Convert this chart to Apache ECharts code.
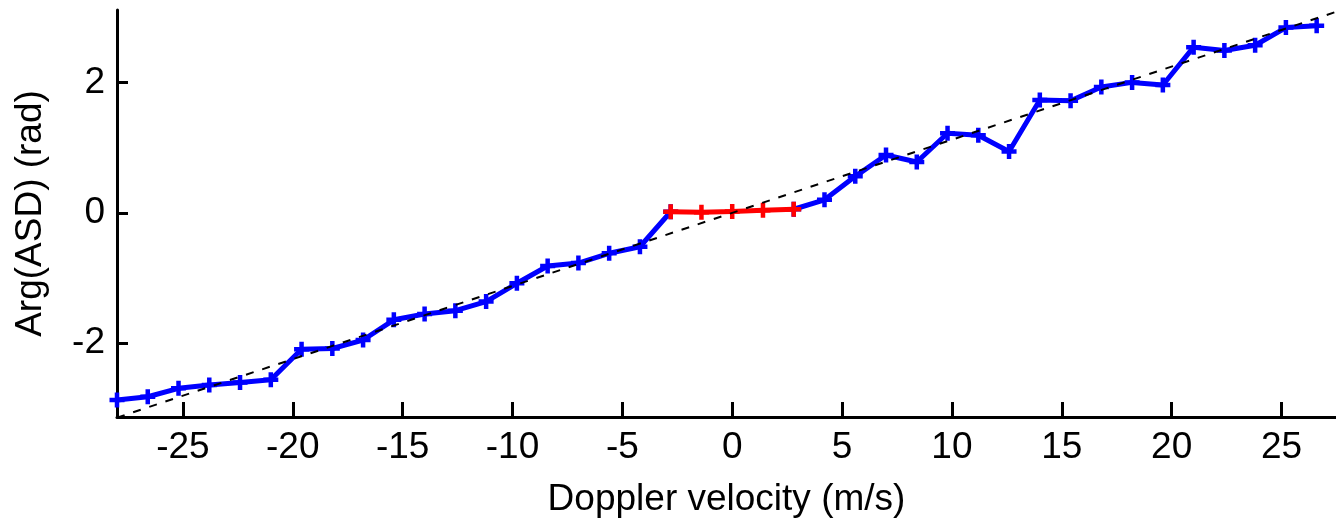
<!DOCTYPE html>
<html>
<head>
<meta charset="utf-8">
<script src="https://cdn.jsdelivr.net/npm/echarts@6/dist/echarts.min.js"></script>
<style>
  html, body {margin: 0; padding: 0; background: #fff;}
  #chart {width: 1336px; height: 518px;}
</style>
</head>
<body>
<div id="chart"></div>
<script>
// doppler velocity samples (m/s)
var velocity = [-28, -26.6, -25.2, -23.8, -22.4, -21, -19.6, -18.2, -16.8, -15.4,
  -14, -12.6, -11.2, -9.8, -8.4, -7, -5.6, -4.2, -2.8, -1.4,
  0, 1.4, 2.8, 4.2, 5.6, 7, 8.4, 9.8, 11.2, 12.6,
  14, 15.4, 16.8, 18.2, 19.6, 21, 22.4, 23.8, 25.2, 26.6];
// arg(ASD) in rad
var phase = [-2.87, -2.82, -2.69, -2.64, -2.60, -2.56, -2.09, -2.08, -1.95, -1.64,
  -1.55, -1.50, -1.36, -1.08, -0.815, -0.77, -0.62, -0.52, 0.017, 0.01,
  0.02, 0.04, 0.055, 0.20, 0.56, 0.886, 0.78, 1.22, 1.19, 0.94,
  1.73, 1.72, 1.93, 2.00, 1.96, 2.54, 2.49, 2.57, 2.84, 2.87];
// low-velocity part drawn in red
var redFrom = -2.8, redTo = 2.8;
// dashed reference line
var fitX = [-28, 28];
var fitY = [-3.14, 3.14];
var xTicks = [-25, -20, -15, -10, -5, 0, 5, 10, 15, 20, 25];
var yTicks = [-2, 0, 2];

var blue = [], red = [];
for (var i = 0; i < velocity.length; i++) {
  var v = velocity[i];
  var inside = v > redFrom + 0.01 && v < redTo - 0.01;
  blue.push(inside ? [v, null] : [v, phase[i]]);
  if (v >= redFrom - 0.01 && v <= redTo + 0.01) red.push([v, phase[i]]);
}
var fit = fitX.map(function (x, k) { return [x, fitY[k]]; });

var plus = 'path://M3.5,0H6.5V3.5H10V6.5H6.5V10H3.5V6.5H0V3.5H3.5Z';
var font = '"Liberation Sans", Arial, sans-serif';

var chart = echarts.init(document.getElementById('chart'));
chart.setOption({
  animation: false,
  grid: {left: 117, right: 0, top: 10, bottom: 101, outerBoundsMode: 'none'},
  xAxis: {
    type: 'value', min: -28, max: 27.48,
    name: 'Doppler velocity (m/s)', nameLocation: 'middle', nameGap: 64,
    nameTextStyle: {color: '#000', fontSize: 37, fontFamily: font},
    axisLine: {onZero: false, lineStyle: {color: '#000', width: 3}},
    axisTick: {inside: true, length: 15, lineStyle: {color: '#000', width: 3}, customValues: xTicks},
    axisLabel: {color: '#000', fontSize: 37, fontFamily: font, margin: 12, customValues: xTicks},
    splitLine: {show: false}
  },
  yAxis: {
    type: 'value', min: -3.13, max: 3.11,
    name: 'Arg(ASD) (rad)', nameLocation: 'middle', nameGap: 68, nameRotate: 90,
    nameTextStyle: {color: '#000', fontSize: 37, fontFamily: font},
    axisLine: {show: true, onZero: false, lineStyle: {color: '#000', width: 3}},
    axisTick: {show: true, inside: true, length: 11, lineStyle: {color: '#000', width: 3}, customValues: yTicks},
    axisLabel: {color: '#000', fontSize: 37, fontFamily: font, margin: 12, customValues: yTicks},
    splitLine: {show: false}
  },
  series: [
    {
      type: 'line', data: blue, connectNulls: false, z: 2,
      symbol: plus, symbolSize: 15,
      lineStyle: {color: '#0000ff', width: 5},
      itemStyle: {color: '#0000ff'}
    },
    {
      type: 'line', data: red, z: 3,
      symbol: plus, symbolSize: 15,
      lineStyle: {color: '#ff0000', width: 5},
      itemStyle: {color: '#ff0000'}
    },
    {
      type: 'line', data: fit, z: 4, symbol: 'none',
      lineStyle: {color: '#000', width: 2, type: [8, 9]}
    }
  ]
});
</script>
</body>
</html>
